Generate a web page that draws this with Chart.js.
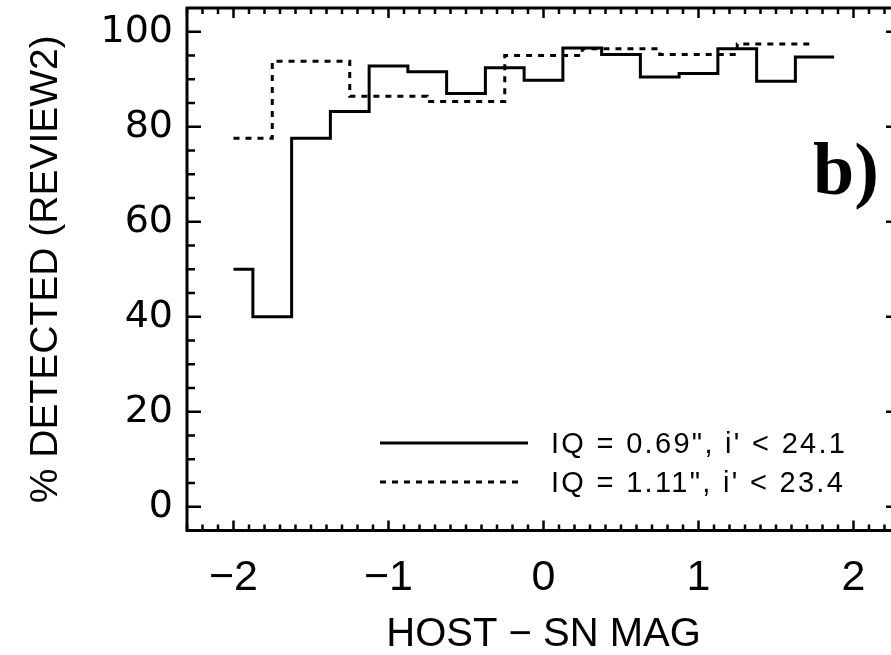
<!DOCTYPE html>
<html>
<head>
<meta charset="utf-8">
<title>Detection efficiency vs host - SN magnitude</title>
<script src="https://cdn.jsdelivr.net/npm/chart.js@4.4.1/dist/chart.umd.min.js"></script>
<style>
  html, body { margin: 0; padding: 0; background: #fff; overflow: hidden; }
  #wrap { width: 910px; height: 655px; }
</style>
</head>
<body>
<div id="wrap"><canvas id="detect-chart" width="910" height="655"></canvas></div>
<script>
// Bin edges (host - SN mag) and % detected for the two seeing samples
const goodSeeingEdges = [-2.0, -1.875, -1.625, -1.375, -1.125, -0.875, -0.625, -0.375, -0.125,
    0.125, 0.375, 0.625, 0.875, 1.125, 1.375, 1.625, 1.875];
const goodSeeingPct = [50, 40, 77.6, 83.2, 92.8, 91.6, 87.0, 92.4,
    89.8, 96.6, 95.2, 90.5, 91.2, 96.4, 89.6, 94.7];

const poorSeeingEdges = [-2.0, -1.75, -1.25, -0.75, -0.25, 0.25, 0.75, 1.25, 1.75];
const poorSeeingPct = [77.6, 93.8, 86.4, 85.3, 95.0, 96.4, 95.2, 97.4];

const seriesLabels = ['IQ = 0.69", i\' < 24.1', 'IQ = 1.11", i\' < 23.4'];
const xTicks = [-2, -1, 0, 1, 2];
const yTicks = [0, 20, 40, 60, 80, 100];

const FONT = '"Liberation Sans", Arial, sans-serif';
const WIDE = '"DejaVu Sans", sans-serif';

// histogram: each bin value holds from its left edge to the next edge
function stepPoints(edges, vals) {
    const pts = vals.map((v, i) => ({ x: edges[i], y: v }));
    pts.push({ x: edges[edges.length - 1], y: vals[vals.length - 1] });
    return pts;
}

// Frame + inward tick marks on all four sides
const framePlugin = {
    id: "frame",
    afterDatasetsDraw(chart) {
        const { ctx, chartArea: a, scales: { x, y } } = chart;
        ctx.save();
        ctx.strokeStyle = "#000";
        ctx.lineCap = "square";
        ctx.lineWidth = 3;
        ctx.strokeRect(a.left, a.top, a.right - a.left, a.bottom - a.top);

        ctx.lineWidth = 2.5;
        ctx.lineCap = "butt";
        ctx.beginPath();
        for (let i = -23; i <= 23; i++) {
            const px = x.getPixelForValue(i / 10);
            const len = i % 10 === 0 ? 10 : 6;
            ctx.moveTo(px, a.bottom); ctx.lineTo(px, a.bottom - len);
            ctx.moveTo(px, a.top); ctx.lineTo(px, a.top + len);
        }
        for (let v = 0; v <= 100; v += 5) {
            const py = y.getPixelForValue(v);
            const len = v % 20 === 0 ? 14 : 8;
            ctx.moveTo(a.left, py); ctx.lineTo(a.left + len, py);
            ctx.moveTo(a.right, py); ctx.lineTo(a.right - len, py);
        }
        ctx.stroke();
        ctx.restore();
    }
};

// Legend drawn inside the plot, lower right
const insetLegend = {
    id: "insetLegend",
    afterDatasetsDraw(chart) {
        const ctx = chart.ctx;
        const rows = [443, 482];
        const lineEnd = [528, 518];
        chart.data.datasets.forEach((ds, i) => {
            const yy = rows[i];
            ctx.save();
            ctx.strokeStyle = ds.borderColor;
            ctx.lineWidth = ds.borderWidth;
            ctx.setLineDash(ds.borderDash || []);
            ctx.beginPath();
            ctx.moveTo(380, yy);
            ctx.lineTo(lineEnd[i], yy);
            ctx.stroke();
            ctx.setLineDash([]);
            ctx.fillStyle = "#000";
            ctx.font = `29px ${FONT}`;
            ctx.letterSpacing = "2.3px";
            ctx.textBaseline = "middle";
            ctx.fillText(ds.label, 551, yy + 2);
            ctx.restore();
        });
    }
};

// panel tag
const panelTag = {
    id: "panelTag",
    afterDraw(chart) {
        const ctx = chart.ctx;
        ctx.save();
        ctx.fillStyle = "#000";
        ctx.font = 'bold 74px "Liberation Serif", "Times New Roman", serif';
        ctx.textBaseline = "alphabetic";
        ctx.fillText("b)", 813, 194);
        ctx.restore();
    }
};

const minus = v => (v < 0 ? "\u2212" + Math.abs(v) : String(v));

new Chart(document.getElementById("detect-chart"), {
    type: "line",
    data: {
        datasets: [{
            label: seriesLabels[0],
            data: stepPoints(goodSeeingEdges, goodSeeingPct),
            borderColor: "#000",
            borderWidth: 3,
            stepped: true,
            pointRadius: 0,
            fill: false,
        }, {
            label: seriesLabels[1],
            data: stepPoints(poorSeeingEdges, poorSeeingPct),
            borderColor: "#000",
            borderWidth: 3,
            borderDash: [6, 6],
            stepped: true,
            pointRadius: 0,
            fill: false,
        }]
    },
    options: {
        responsive: false,
        animation: false,
        layout: { padding: { top: 8, right: 10, left: 0, bottom: 0 } },
        plugins: {
            legend: { display: false },
            tooltip: { enabled: false }
        },
        scales: {
            x: {
                type: "linear",
                min: -2.3,
                max: 2.3,
                afterBuildTicks: s => { s.ticks = xTicks.map(v => ({ value: v })); },
                afterFit: s => { s.height = 124.5; s.paddingLeft = 0; s.paddingRight = 0; },
                grid: { display: false, drawTicks: false },
                border: { display: false },
                ticks: {
                    color: "#000",
                    padding: 26,
                    maxRotation: 0,
                    autoSkip: false,
                    font: { family: FONT, size: 43, lineHeight: 1 },
                    callback: v => minus(v)
                },
                title: {
                    display: true,
                    text: "HOST \u2212 SN MAG",
                    color: "#000",
                    font: { family: FONT, size: 40, lineHeight: 1 },
                    padding: { top: 0, bottom: 0 }
                }
            },
            y: {
                type: "linear",
                min: -5,
                max: 105,
                afterBuildTicks: s => { s.ticks = yTicks.map(v => ({ value: v })); },
                afterFit: s => { s.width = 187; s.paddingTop = 0; s.paddingBottom = 0; },
                grid: { display: false, drawTicks: false },
                border: { display: false },
                ticks: {
                    color: "#000",
                    padding: 14,
                    font: { family: WIDE, size: 38, lineHeight: 1 }
                },
                title: {
                    display: true,
                    text: "% DETECTED (REVIEW2)",
                    color: "#000",
                    font: { family: FONT, size: 39, lineHeight: 1 },
                    padding: { top: 27, bottom: 0 }
                }
            }
        }
    },
    plugins: [framePlugin, insetLegend, panelTag]
});
</script>
</body>
</html>
